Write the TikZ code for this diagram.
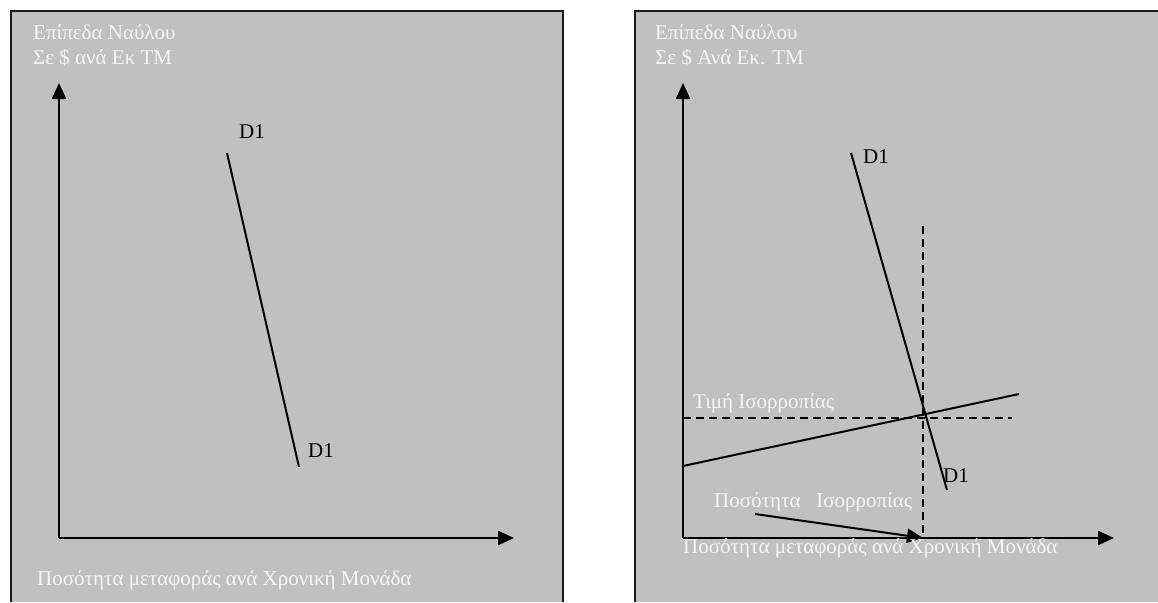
\documentclass[tikz,border=0pt]{standalone}
\usepackage{fontspec}
\setmainfont{Liberation Serif}
\usetikzlibrary{arrows.meta}
\definecolor{panelgray}{RGB}{192,192,192}
\definecolor{labelwhite}{RGB}{245,245,245}
\tikzset{
  panel/.style={fill=panelgray,draw=none},
  frame/.style={line width=2.2pt,draw=black!90},
  axis/.style={line width=2.4pt,-{Triangle[length=16pt,width=14pt]}},
  curve/.style={line width=2pt},
  guide/.style={line width=2.2pt,dash pattern=on 8pt off 5pt},
  wlabel/.style={anchor=base west,inner sep=0pt,text=labelwhite,font=\fontsize{21}{24}\selectfont},
  blabel/.style={anchor=base west,inner sep=0pt,text=black,font=\fontsize{21}{24}\selectfont}
}
\begin{document}
\begin{tikzpicture}[x=1pt,y=-1pt]
\useasboundingbox (0,0) rectangle (1158,602);
% left panel
\fill[panel] (11,11) rectangle (563,602);
\draw[frame] (11,602) -- (11,11) -- (563,11) -- (563,602);
% right panel
\fill[panel] (635,11) rectangle (1158,602);
\draw[frame] (635,602) -- (635,11) -- (1158,11);

% ---- left panel ----
\coordinate (Lo) at (59,538);
\coordinate (Ly) at (59,83);
\coordinate (Lx) at (514,538);
\coordinate (LdA) at (227,153);
\coordinate (LdB) at (299,467);
\draw[axis] (Lo) -- (Ly);
\draw[axis] (Lo) -- (Lx);
\draw[curve] (LdA) -- (LdB);
\node[wlabel] (Lt1) at (33,40) {Επίπεδα Ναύλου};
\node[wlabel] (Lt2) at (33,64) {Σε \$ ανά Εκ ΤΜ};
\node[blabel] (Ld1) at (239,138) {D1};
\node[blabel] (Ld2) at (308,457) {D1};
\node[wlabel] (Lxl) at (37,585) {Ποσότητα μεταφοράς ανά Χρονική Μονάδα};

% ---- right panel ----
\coordinate (Ro) at (683,538);
\coordinate (Ry) at (683,83);
\coordinate (Rx) at (1114,538);
\coordinate (RdA) at (851,153);
\coordinate (RdB) at (947,490);
\coordinate (RvT) at (923,226);
\coordinate (RvB) at (923,538);
\coordinate (RhL) at (683,418);
\coordinate (RhR) at (1012,418);
\coordinate (RsA) at (683,466);
\coordinate (RsB) at (1019,394);
\coordinate (RqA) at (755,514);
\coordinate (RqB) at (923,538);
\draw[guide] (RvT) -- (RvB);
\draw[guide] (RhL) -- (RhR);
\draw[axis] (Ro) -- (Ry);
\draw[axis] (Ro) -- (Rx);
\draw[curve] (RdA) -- (RdB);
\draw[curve] (RsA) -- (RsB);
\draw[line width=2pt,-{Triangle[length=16pt,width=14pt]}] (RqA) -- (RqB);
\node[wlabel] (Rt1) at (655,40) {Επίπεδα Ναύλου};
\node[wlabel] (Rt2) at (655,64) {Σε \$ Ανά Εκ. ΤΜ};
\node[blabel] (Rd1) at (863,163) {D1};
\node[blabel] (Rd2) at (943,482) {D1};
\node[wlabel] (Rp) at (693,408) {Τιμή Ισορροπίας};
\node[wlabel] (Rq) at (714,507) {Ποσότητα\ \ \ Ισορροπίας};
\node[wlabel] (Rxl) at (683,553) {Ποσότητα μεταφοράς ανά Χρονική Μονάδα};
\end{tikzpicture}
\end{document}
